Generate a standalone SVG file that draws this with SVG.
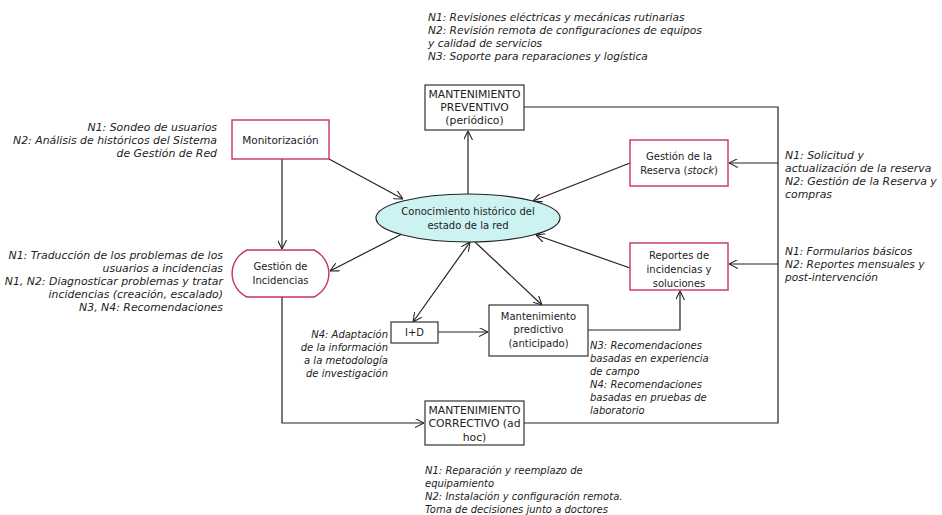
<svg xmlns="http://www.w3.org/2000/svg" width="942" height="515" viewBox="0 0 942 515">
<style>
text{font-family:"DejaVu Sans","Liberation Sans",sans-serif;font-size:10px;fill:#222}
.n{text-anchor:middle}
.a{font-style:italic}
.r{text-anchor:end}
.big{font-size:10.8px}
.a1{font-size:10.6px}
.a2{font-size:10.9px}
.box{fill:#fff;stroke:#333;stroke-width:1.2}
.pk{fill:#fff;stroke:#c8325f;stroke-width:1.4}
.c{fill:none;stroke:#222;stroke-width:1.2}
</style>
<defs>
<marker id="ar" viewBox="0 0 10 10" refX="10" refY="5" markerWidth="9" markerHeight="9" markerUnits="userSpaceOnUse" orient="auto-start-reverse">
<path d="M0,0 L10,5 L0,10" fill="none" stroke="#222" stroke-width="1.2"/>
</marker>
</defs>
<rect width="942" height="515" fill="#fff"/>
<g id="connectors">
<path class="c" d="M282,159 V249" marker-end="url(#ar)"/>
<path class="c" d="M329,159 L403,199" marker-end="url(#ar)"/>
<path class="c" d="M468,194 V131" marker-end="url(#ar)"/>
<path class="c" d="M630,163 L533,201" marker-end="url(#ar)"/>
<path class="c" d="M630,268 L536,235" marker-end="url(#ar)"/>
<path class="c" d="M402,234 L330,271" marker-end="url(#ar)"/>
<path class="c" d="M470,242 L413,322" marker-start="url(#ar)" marker-end="url(#ar)"/>
<path class="c" d="M475,242 L542,305" marker-end="url(#ar)"/>
<path class="c" d="M438,332 H488" marker-end="url(#ar)"/>
<path class="c" d="M588,330 H680 V291" marker-end="url(#ar)"/>
<path class="c" d="M524,107 H778 V423 H524"/>
<path class="c" d="M778,163 H729" marker-end="url(#ar)"/>
<path class="c" d="M778,264 H729" marker-end="url(#ar)"/>
<path class="c" d="M282,297 V423 H424" marker-end="url(#ar)"/>
</g>
<g id="preventivo">
<rect class="box" x="425" y="85" width="99" height="45"/>
<text class="n big" x="474.5" y="98">MANTENIMIENTO</text>
<text class="n big" x="474.5" y="111">PREVENTIVO</text>
<text class="n big" x="474.5" y="124">(periódico)</text>
</g>
<g id="monitorizacion">
<rect class="pk" x="232" y="120" width="97" height="39"/>
<text class="n" x="280.5" y="144" style="font-size:10.5px">Monitorización</text>
</g>
<g id="conocimiento">
<ellipse cx="468" cy="218" rx="92" ry="24" fill="#cdf2f2" stroke="#222" stroke-width="1.2"/>
<text class="n" x="468" y="215">Conocimiento histórico del</text>
<text class="n" x="468" y="229">estado de la red</text>
</g>
<g id="reserva">
<rect class="pk" x="630" y="140" width="98" height="46"/>
<text class="n" x="679" y="160">Gestión de la</text>
<text class="n" x="679" y="174">Reserva (<tspan font-style="italic">stock</tspan>)</text>
</g>
<g id="incidencias">
<path class="pk" d="M247,250 H314 A26,26 0 0 1 314,297 H247 A26,26 0 0 1 247,250 Z"/>
<text class="n" x="280.5" y="270">Gestión de</text>
<text class="n" x="280.5" y="284">Incidencias</text>
</g>
<g id="reportes">
<rect class="pk" x="630" y="243" width="98" height="47"/>
<text class="n" x="679" y="259">Reportes de</text>
<text class="n" x="679" y="273">incidencias y</text>
<text class="n" x="679" y="287">soluciones</text>
</g>
<g id="imasd">
<rect class="box" x="391" y="322" width="47" height="21"/>
<text class="n" x="414.5" y="336">I+D</text>
</g>
<g id="predictivo">
<rect class="box" x="489" y="305" width="99" height="51"/>
<text class="n" x="538.5" y="320">Mantenimiento</text>
<text class="n" x="538.5" y="333">predictivo</text>
<text class="n" x="538.5" y="347">(anticipado)</text>
</g>
<g id="correctivo">
<rect class="box" x="425" y="401" width="99" height="44"/>
<text class="n big" x="474.5" y="414">MANTENIMIENTO</text>
<text class="n big" x="474.5" y="427">CORRECTIVO (ad</text>
<text class="n big" x="474.5" y="441">hoc)</text>
</g>
<g id="annotations">
<text class="a a1" x="428" y="21">N1: Revisiones eléctricas y mecánicas rutinarias</text>
<text class="a a1" x="428" y="34">N2: Revisión remota de configuraciones de equipos</text>
<text class="a a1" x="428" y="47">y calidad de servicios</text>
<text class="a a1" x="428" y="60">N3: Soporte para reparaciones y logística</text>
<text class="a r a2" x="217" y="131">N1: Sondeo de usuarios</text>
<text class="a r a2" x="217" y="144">N2: Análisis de históricos del Sistema</text>
<text class="a r a2" x="217" y="157">de Gestión de Red</text>
<text class="a r a2" x="223" y="259">N1: Traducción de los problemas de los</text>
<text class="a r a2" x="223" y="272">usuarios a incidencias</text>
<text class="a r a2" x="223" y="285">N1, N2: Diagnosticar problemas y tratar</text>
<text class="a r a2" x="223" y="298">incidencias (creación, escalado)</text>
<text class="a r a2" x="223" y="311">N3, N4: Recomendaciones</text>
<text class="a a2" x="785" y="159">N1: Solicitud y</text>
<text class="a a2" x="785" y="172">actualización de la reserva</text>
<text class="a a2" x="785" y="185">N2: Gestión de la Reserva y</text>
<text class="a a2" x="785" y="198">compras</text>
<text class="a a1" x="785" y="255">N1: Formularios básicos</text>
<text class="a a1" x="785" y="268">N2: Reportes mensuales y</text>
<text class="a a1" x="785" y="281">post-intervención</text>
<text class="a r" x="388" y="338">N4: Adaptación</text>
<text class="a r" x="388" y="351">de la información</text>
<text class="a r" x="388" y="364">a la metodología</text>
<text class="a r" x="388" y="377">de investigación</text>
<text class="a" x="590" y="349">N3: Recomendaciones</text>
<text class="a" x="590" y="362">basadas en experiencia</text>
<text class="a" x="590" y="375">de campo</text>
<text class="a" x="590" y="388">N4: Recomendaciones</text>
<text class="a" x="590" y="401">basadas en pruebas de</text>
<text class="a" x="590" y="414">laboratorio</text>
<text class="a" x="425" y="474">N1: Reparación y reemplazo de</text>
<text class="a" x="425" y="487">equipamiento</text>
<text class="a" x="425" y="500">N2: Instalación y configuración remota.</text>
<text class="a" x="425" y="513">Toma de decisiones junto a doctores</text>
</g>
</svg>
